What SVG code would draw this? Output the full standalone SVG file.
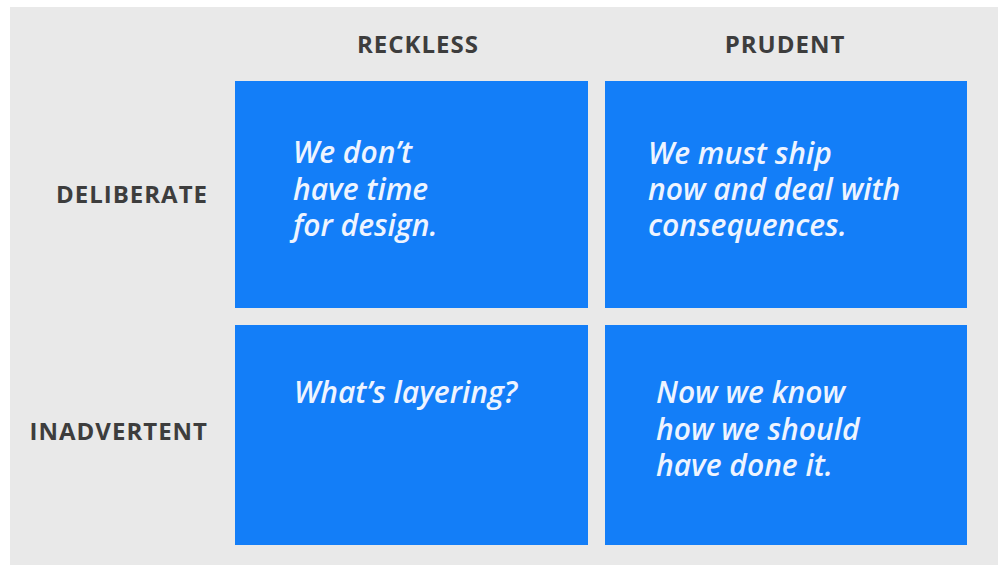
<svg xmlns="http://www.w3.org/2000/svg" width="998" height="567" viewBox="0 0 998 567">
<style>
.hdr{font-family:"Open Sans","Liberation Sans",sans-serif;font-weight:bold;font-size:24px;letter-spacing:1px;fill:#3d3d3d}
.box{fill:#137ef8}
.q{font-family:"Open Sans","Liberation Sans",sans-serif;font-style:italic;font-weight:600;font-size:30px;fill:#eef4ff}
</style>
<rect x="0" y="0" width="998" height="567" fill="#ffffff"/>
<rect x="10" y="7" width="988" height="558" fill="#e9e9e9"/>
<g id="col-reckless"><text class="hdr" x="418" y="53" text-anchor="middle">RECKLESS</text></g>
<g id="col-prudent"><text class="hdr" x="785" y="53" text-anchor="middle">PRUDENT</text></g>
<g id="row-deliberate"><text class="hdr" x="208" y="203" text-anchor="end">DELIBERATE</text></g>
<g id="row-inadvertent"><text class="hdr" x="208" y="440" text-anchor="end">INADVERTENT</text></g>
<g id="reckless-deliberate">
<rect class="box" x="235" y="81" width="353" height="227"/>
<text class="q" x="293" y="163"><tspan x="293">We don’t</tspan><tspan x="293" dy="36.5">have time</tspan><tspan x="293" dy="36.5">for design.</tspan></text>
</g>
<g id="prudent-deliberate">
<rect class="box" x="605" y="81" width="362" height="227"/>
<text class="q" x="648" y="164"><tspan x="648">We must ship</tspan><tspan x="648" dy="36">now and deal with</tspan><tspan x="648" dy="36">consequences.</tspan></text>
</g>
<g id="reckless-inadvertent">
<rect class="box" x="235" y="325" width="353" height="220"/>
<text class="q" x="294" y="403">What’s layering?</text>
</g>
<g id="prudent-inadvertent">
<rect class="box" x="605" y="325" width="362" height="220"/>
<text class="q" x="656" y="403"><tspan x="656">Now we know</tspan><tspan x="656" dy="36.5">how we should</tspan><tspan x="656" dy="36.5">have done it.</tspan></text>
</g>
<g id="connectors"/>
</svg>
